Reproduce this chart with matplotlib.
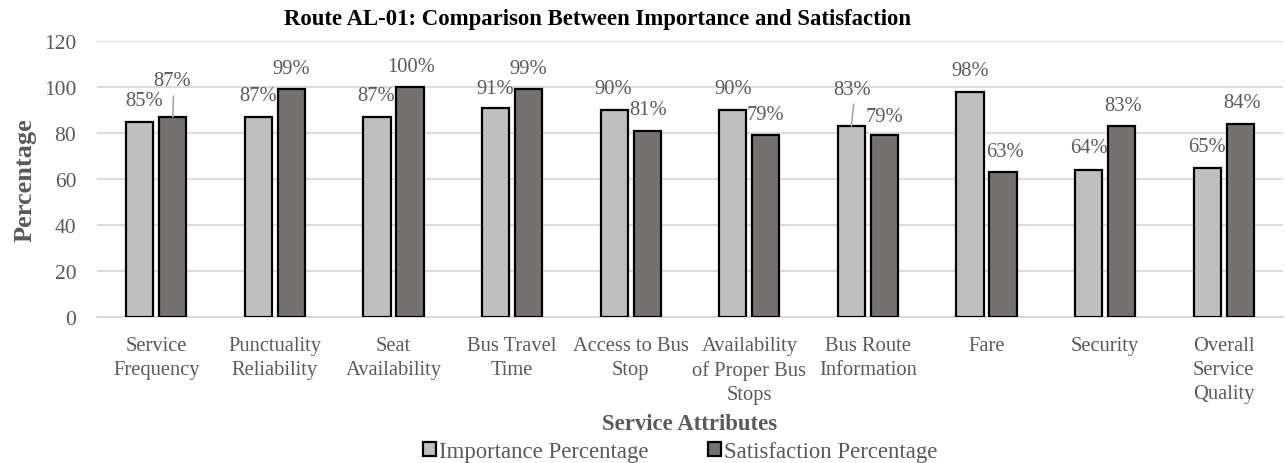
import matplotlib
matplotlib.use("Agg")
import matplotlib.pyplot as plt
import numpy as np

# Survey results for route AL-01
categories = [
    "Service\nFrequency", "Punctuality\nReliability", "Seat\nAvailability",
    "Bus Travel\nTime", "Access to Bus\nStop", "Availability\nof Proper Bus\nStops",
    "Bus Route\nInformation", "Fare", "Security", "Overall\nService\nQuality",
]
importance = [85, 87, 87, 91, 90, 90, 83, 98, 64, 65]
satisfaction = [87, 99, 100, 99, 81, 79, 79, 63, 83, 84]
y_ticks = [0, 20, 40, 60, 80, 100, 120]

# label offsets (pixels, relative to bar top centre); leader lines where flagged
imp_offsets = [(4, 21), (0, 21), (-1, 21), (0, 19), (-1, 21), (0, 21), (1, 37), (0, 21), (0, 22), (0, 21)]
sat_offsets = [(-1, 36), (0, 21), (1, 21), (0, 21), (1, 21), (0, 21), (0, 19), (2, 21), (1, 21), (2, 21)]
imp_leader = [False, False, False, False, False, False, True, False, False, False]
sat_leader = [True, False, False, False, False, False, False, False, False, False]

plt.rcParams["font.family"] = ["Liberation Serif", "DejaVu Serif"]
TEXT = "#595959"
FS = 14.8
FS_BIG = 16.4

W, H = 1285, 464
fig = plt.figure(figsize=(W / 100, H / 100), dpi=100)
ax = fig.add_axes([97 / W, (H - 318) / H, (1283 - 97) / W, (318 - 42) / H])

x = np.arange(len(categories))
bw = 0.23
off = 0.139
b1 = ax.bar(x - off, importance, bw, color="#BFBFBF", edgecolor="black", linewidth=1.6,
            label="Importance Percentage", zorder=3)
b2 = ax.bar(x + off, satisfaction, bw, color="#767171", edgecolor="black", linewidth=1.6,
            label="Satisfaction Percentage", zorder=3)

def add_labels(bars, values, offsets, leaders):
    for rect, v, (dx, dy), lead in zip(bars, values, offsets, leaders):
        cx = rect.get_x() + rect.get_width() / 2
        kw = {}
        if lead:
            kw["arrowprops"] = dict(arrowstyle="-", color="#A6A6A6", lw=1.2,
                                    shrinkA=2, shrinkB=0, relpos=(0.55, 0))
        ax.annotate(f"{v}%", xy=(cx, v), xytext=(dx, dy), textcoords="offset pixels",
                    ha="center", va="center", fontsize=FS, color=TEXT, zorder=5, **kw)

add_labels(b1, importance, imp_offsets, imp_leader)
add_labels(b2, satisfaction, sat_offsets, sat_leader)

ax.set_xlim(-0.5, len(categories) - 0.5)
ax.set_ylim(0, 120)
ax.set_yticks(y_ticks)
ax.set_yticklabels([str(t) for t in y_ticks], fontsize=15.5, color=TEXT)
ax.set_xticks(x)
ax.set_xticklabels(categories, fontsize=FS, color=TEXT, linespacing=1.36)
ax.tick_params(axis="both", length=0)
ax.tick_params(axis="y", pad=15)
ax.tick_params(axis="x", pad=13.5)
ax.grid(axis="y", color="#D9D9D9", linewidth=1.3, zorder=0)
ax.set_axisbelow(True)
for s in ["top", "right", "left"]:
    ax.spines[s].set_visible(False)
ax.spines["bottom"].set_color("#D9D9D9")
ax.spines["bottom"].set_linewidth(1.3)

fig.text(597 / W, (H - 19) / H, "Route AL-01: Comparison Between Importance and Satisfaction",
         ha="center", va="center", fontsize=FS_BIG, fontweight="bold", color="black")
fig.text(25 / W, (H - 180) / H, "Percentage", rotation=90, ha="center", va="center",
         fontsize=19, fontweight="bold", color=TEXT)
fig.text(690 / W, (H - 425) / H, "Service Attributes", ha="center", va="center",
         fontsize=FS_BIG, fontweight="bold", color=TEXT)

leg = fig.legend(handles=[b1, b2], loc="center", bbox_to_anchor=(680 / W, (H - 452.5) / H),
                 ncol=2, frameon=False, fontsize=FS_BIG, handlelength=0.57, handleheight=0.57,
                 handletextpad=0.15, columnspacing=2.6, borderpad=0, labelcolor=TEXT)

fig.savefig("out.png", dpi=100)
